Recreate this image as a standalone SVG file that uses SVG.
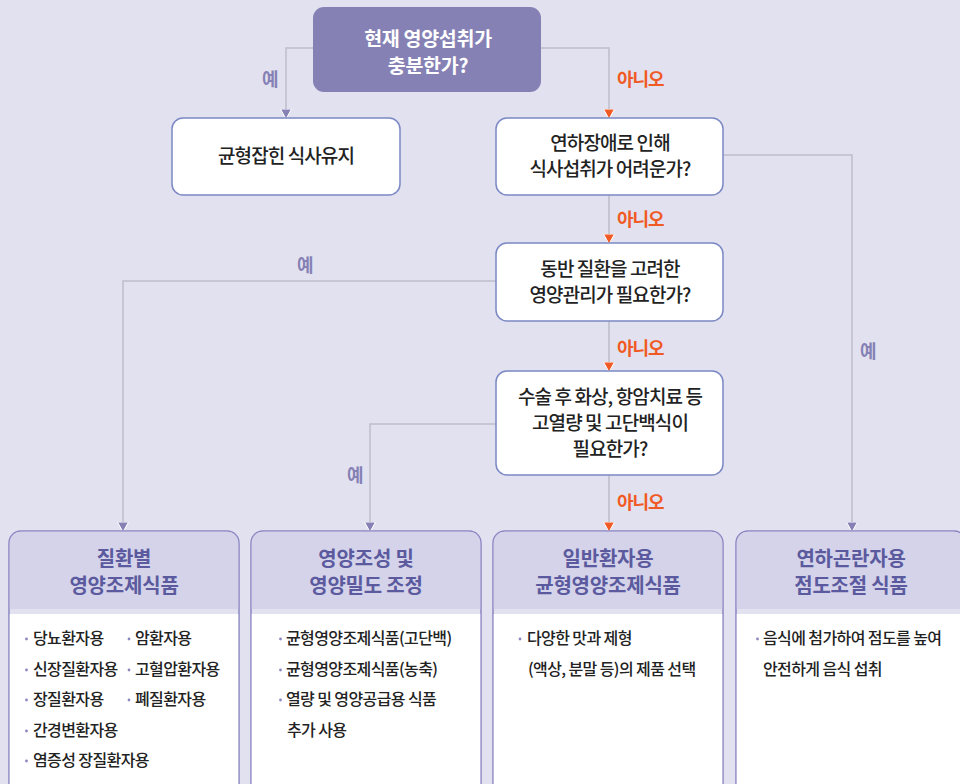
<svg xmlns="http://www.w3.org/2000/svg" width="960" height="784" viewBox="0 0 960 784">
<defs>
<style>
text{font-family:"Noto Sans CJK KR","Noto Sans",sans-serif;}
.title{font-size:19.5px;font-weight:700;fill:#ffffff;text-anchor:middle;letter-spacing:-0.3px;}
.q{font-size:19px;font-weight:500;fill:#222222;text-anchor:middle;letter-spacing:-0.9px;}
.yes{font-size:18px;font-weight:700;fill:#8581b5;letter-spacing:-1px;}
.no{font-size:18px;font-weight:700;fill:#f05a24;letter-spacing:-1px;}
.hd{font-size:20px;font-weight:700;fill:#5b5a9e;text-anchor:middle;letter-spacing:-0.2px;}
.it{font-size:16px;font-weight:500;fill:#222222;letter-spacing:-0.6px;}
.node{fill:#ffffff;stroke:#7b88c4;stroke-width:1.5;}
.conn{fill:none;stroke:#bdbdca;stroke-width:1.5;}
.outer{fill:#e2e1f0;stroke:#8a87c2;stroke-width:1.5;}
.head{fill:#d4d3ea;}
.body{fill:#ffffff;}
.dot{fill:#8a87c2;}
</style>
<marker id="ap" markerUnits="userSpaceOnUse" markerWidth="12" markerHeight="14" refX="9" refY="6" orient="auto" viewBox="0 0 12 12">
<path d="M0,0.5 L10,6 L0,11.5 Z" fill="#8581b5" stroke="#ffffff" stroke-width="1"/>
</marker>
<marker id="ao" markerUnits="userSpaceOnUse" markerWidth="12" markerHeight="14" refX="9" refY="6" orient="auto" viewBox="0 0 12 12">
<path d="M0,0.5 L10,6 L0,11.5 Z" fill="#f05a24" stroke="#ffffff" stroke-width="1"/>
</marker>
</defs>
<rect x="0" y="0" width="960" height="784" fill="#e2e1f0"/>

<g id="connectors">
<path class="conn" d="M313,48 H286 V118" marker-end="url(#ap)"/>
<path class="conn" d="M541,48 H609 V118" marker-end="url(#ao)"/>
<path class="conn" d="M723,155 H852 V531" marker-end="url(#ap)"/>
<path class="conn" d="M609,195 V243" marker-end="url(#ao)"/>
<path class="conn" d="M496,281 H123 V531" marker-end="url(#ap)"/>
<path class="conn" d="M609,321 V371" marker-end="url(#ao)"/>
<path class="conn" d="M496,424 H370 V531" marker-end="url(#ap)"/>
<path class="conn" d="M609,475 V531" marker-end="url(#ao)"/>
<text class="yes" x="262" y="86">예</text>
<text class="no" x="617" y="86">아니오</text>
<text class="no" x="617" y="226">아니오</text>
<text class="yes" x="297" y="272">예</text>
<text class="yes" x="860" y="358">예</text>
<text class="no" x="617" y="355">아니오</text>
<text class="yes" x="347" y="482">예</text>
<text class="no" x="617" y="509">아니오</text>
</g>

<g id="start">
<rect x="313" y="7" width="228" height="85" rx="11" fill="#8581b5"/>
<text class="title" x="428" y="46">현재 영양섭취가</text>
<text class="title" x="428" y="73">충분한가?</text>
</g>

<g id="keep">
<rect class="node" x="172" y="118" width="228" height="77" rx="11"/>
<text class="q" x="286" y="163">균형잡힌 식사유지</text>
</g>

<g id="q-dysphagia">
<rect class="node" x="496" y="118" width="227" height="77" rx="11"/>
<text class="q" x="610" y="150">연하장애로 인해</text>
<text class="q" x="610" y="176">식사섭취가 어려운가?</text>
</g>

<g id="q-disease">
<rect class="node" x="496" y="243" width="227" height="78" rx="11"/>
<text class="q" x="610" y="276">동반 질환을 고려한</text>
<text class="q" x="610" y="302">영양관리가 필요한가?</text>
</g>

<g id="q-highcal">
<rect class="node" x="496" y="371" width="227" height="104" rx="11"/>
<text class="q" x="610" y="404">수술 후 화상, 항암치료 등</text>
<text class="q" x="610" y="430">고열량 및 고단백식이</text>
<text class="q" x="610" y="456">필요한가?</text>
</g>

<g id="r-disease">
<rect class="outer" x="9" y="531" width="230" height="280" rx="12"/>
<path class="head" d="M9.75,609 V543 A11.25,11.25 0 0 1 21,531.75 H227 A11.25,11.25 0 0 1 238.25,543 V609 Z"/>
<rect class="body" x="9.75" y="614" width="228.5" height="190"/>
<text class="hd" x="124" y="566">질환별</text>
<text class="hd" x="124" y="593">영양조제식품</text>
<circle class="dot" cx="26.5" cy="639" r="1.4"/>
<text class="it" x="33" y="644">당뇨환자용</text>
<circle class="dot" cx="129" cy="639" r="1.4"/>
<text class="it" x="135" y="644">암환자용</text>
<circle class="dot" cx="26.5" cy="670" r="1.4"/>
<text class="it" x="33" y="675">신장질환자용</text>
<circle class="dot" cx="129" cy="670" r="1.4"/>
<text class="it" x="135" y="675">고혈압환자용</text>
<circle class="dot" cx="26.5" cy="700" r="1.4"/>
<text class="it" x="33" y="705">장질환자용</text>
<circle class="dot" cx="129" cy="700" r="1.4"/>
<text class="it" x="135" y="705">폐질환자용</text>
<circle class="dot" cx="26.5" cy="731" r="1.4"/>
<text class="it" x="33" y="736">간경변환자용</text>
<circle class="dot" cx="26.5" cy="761" r="1.4"/>
<text class="it" x="33" y="766">염증성 장질환자용</text>
</g>

<g id="r-density">
<rect class="outer" x="251" y="531" width="230" height="280" rx="12"/>
<path class="head" d="M251.75,609 V543 A11.25,11.25 0 0 1 263,531.75 H469 A11.25,11.25 0 0 1 480.25,543 V609 Z"/>
<rect class="body" x="251.75" y="614" width="228.5" height="190"/>
<text class="hd" x="366" y="566">영양조성 및</text>
<text class="hd" x="366" y="593">영양밀도 조정</text>
<circle class="dot" cx="280.5" cy="639" r="1.4"/>
<text class="it" x="286" y="644">균형영양조제식품(고단백)</text>
<circle class="dot" cx="280.5" cy="670" r="1.4"/>
<text class="it" x="286" y="675">균형영양조제식품(농축)</text>
<circle class="dot" cx="280.5" cy="700" r="1.4"/>
<text class="it" x="286" y="705">열량 및 영양공급용 식품</text>
<text class="it" x="287" y="736">추가 사용</text>
</g>

<g id="r-general">
<rect class="outer" x="493" y="531" width="230" height="280" rx="12"/>
<path class="head" d="M493.75,609 V543 A11.25,11.25 0 0 1 505,531.75 H711 A11.25,11.25 0 0 1 722.25,543 V609 Z"/>
<rect class="body" x="493.75" y="614" width="228.5" height="190"/>
<text class="hd" x="608" y="566">일반환자용</text>
<text class="hd" x="608" y="593">균형영양조제식품</text>
<circle class="dot" cx="520" cy="639" r="1.4"/>
<text class="it" x="527" y="644">다양한 맛과 제형</text>
<text class="it" x="528" y="675">(액상, 분말 등)의 제품 선택</text>
</g>

<g id="r-thick">
<rect class="outer" x="736" y="531" width="230" height="280" rx="12"/>
<path class="head" d="M736.75,609 V543 A11.25,11.25 0 0 1 748,531.75 H954 A11.25,11.25 0 0 1 965.25,543 V609 Z"/>
<rect class="body" x="736.75" y="614" width="228.5" height="190"/>
<text class="hd" x="851" y="566">연하곤란자용</text>
<text class="hd" x="851" y="593">점도조절 식품</text>
<circle class="dot" cx="757.5" cy="639" r="1.4"/>
<text class="it" x="763" y="644">음식에 첨가하여 점도를 높여</text>
<text class="it" x="763" y="675">안전하게 음식 섭취</text>
</g>
</svg>
